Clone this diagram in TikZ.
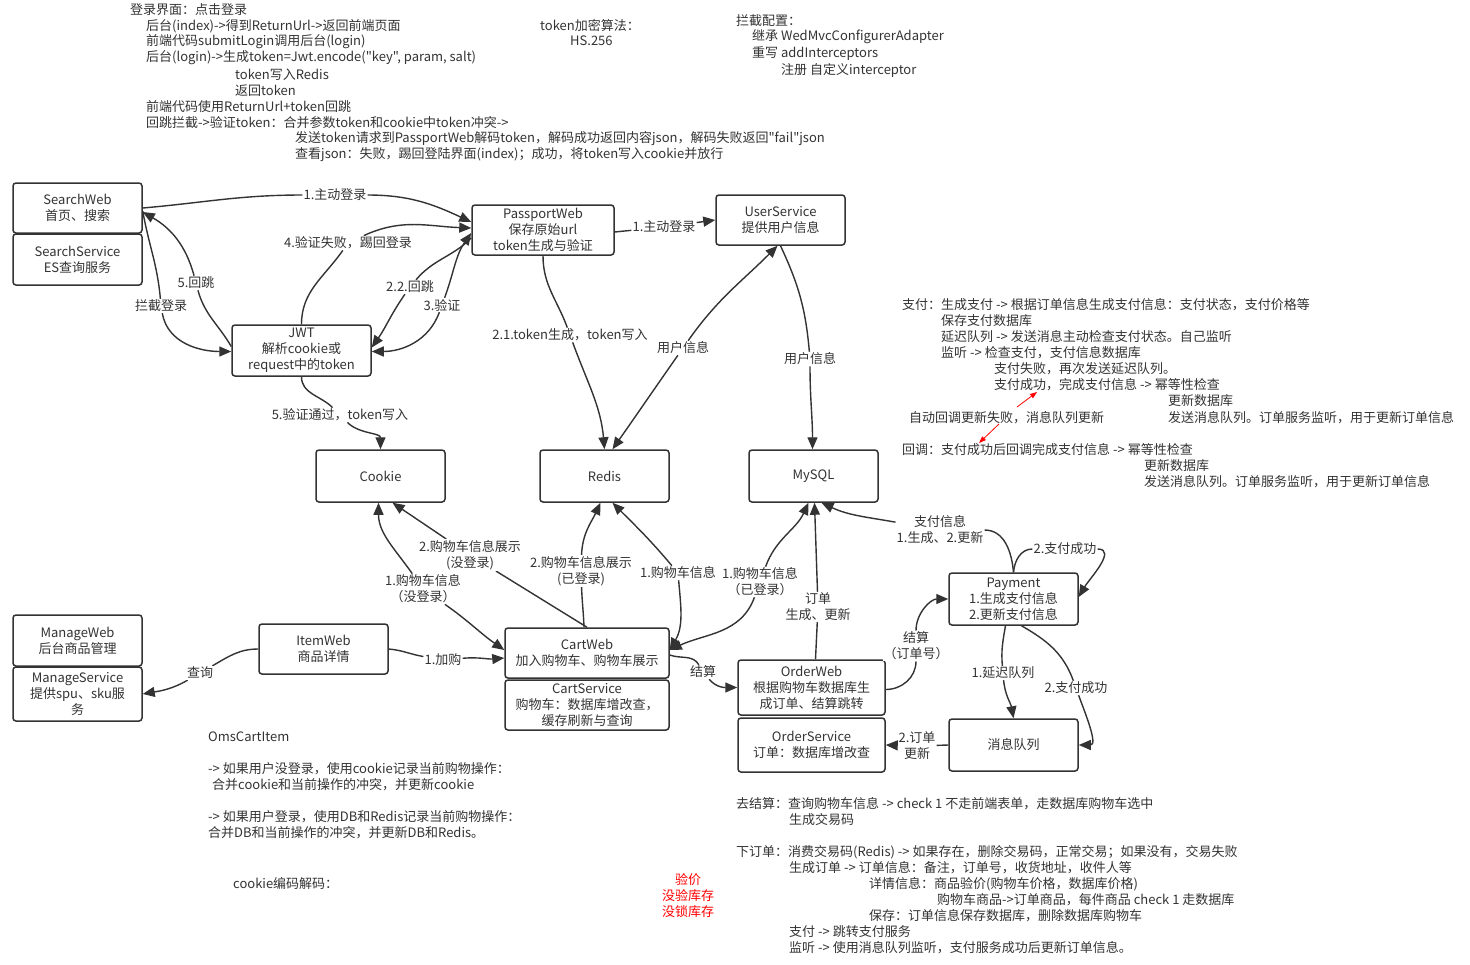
\documentclass[tikz,border=0pt]{standalone}
\usepackage{fontspec}
\setmainfont{Noto Sans CJK SC}[Ligatures=TeXOff]
\usepackage{xcolor}
\usetikzlibrary{arrows.meta}
\usetikzlibrary{backgrounds}
\colorlet{lineCol}{black!80}
\colorlet{textCol}{black!80}
\colorlet{warnCol}{red}

\tikzset{
  box/.style={draw=lineCol, line width=1.5pt, rounded corners=3pt, fill=white, text=textCol,
    align=center, inner sep=1pt, minimum width=129pt, minimum height=51pt,
    font=\fontsize{13}{16}\selectfont},
  lbl/.style={fill=white, text=textCol, align=center, inner sep=1pt, font=\fontsize{13}{16}\selectfont},
  note/.style={anchor=west, inner sep=0pt, text=textCol, font=\fontsize{13}{16}\selectfont},
  link/.style={draw=lineCol, line width=1.4pt, ->},
  linkback/.style={link, <-},
  redlink/.style={draw=warnCol, line width=0.8pt, -{Triangle[length=7pt,width=5pt]}}
}

\begin{document}
\begin{tikzpicture}[x=1pt, y=-1pt, >={Triangle[length=12pt,width=10pt]}]
%--------------------------------------------------
\useasboundingbox (0,0) rectangle (1470,964);

% login notes, top left
\node[note] (login1) at (130,10) {登录界面：点击登录};
\node[note] (login2) at (146,26) {后台(index)->得到ReturnUrl->返回前端页面};
\node[note] (login3) at (146,42) {前端代码submitLogin调用后台(login)};
\node[note] (login4) at (146,58) {后台(login)->生成token=Jwt.encode("key", param, salt)};
\node[note] (login5) at (235,75) {token写入Redis};
\node[note] (login6) at (235,91) {返回token};
\node[note] (login7) at (146,107) {前端代码使用ReturnUrl+token回跳};
\node[note] (login8) at (146,123) {回跳拦截->验证token：合并参数token和cookie中token冲突->};
\node[note] (login9) at (295,139) {发送token请求到PassportWeb解码token，解码成功返回内容json，解码失败返回"fail"json};
\node[note] (login10) at (295,155) {查看json：失败，踢回登陆界面(index)；成功，将token写入cookie并放行};

% token algorithm and interceptor notes
\node[note] (enc1) at (540,25) {token加密算法：};
\node[note] (enc2) at (570,41) {HS.256};
\node[note] (icpt1) at (736,21) {拦截配置：};
\node[note] (icpt2) at (752,37) {继承 WedMvcConfigurerAdapter};
\node[note] (icpt3) at (752,54) {重写 addInterceptors};
\node[note] (icpt4) at (781,70) {注册 自定义interceptor};

% payment notes, right
\node[note] (pay1) at (902,305) {支付：生成支付 -> 根据订单信息生成支付信息：支付状态，支付价格等};
\node[note] (pay2) at (941,321) {保存支付数据库};
\node[note] (pay3) at (941,337) {延迟队列 -> 发送消息主动检查支付状态。自己监听};
\node[note] (pay4) at (941,353) {监听 -> 检查支付，支付信息数据库};
\node[note] (pay5) at (994,369) {支付失败，再次发送延迟队列。};
\node[note] (pay6) at (994,385) {支付成功，完成支付信息 -> 幂等性检查};
\node[note] (pay7) at (1168,401) {更新数据库};
\node[note] (pay8) at (1168,418) {发送消息队列。订单服务监听，用于更新订单信息};
\node[note] (pay9) at (909,418) {自动回调更新失败，消息队列更新};
\node[note] (pay10) at (902,450) {回调：支付成功后回调完成支付信息 -> 幂等性检查};
\node[note] (pay11) at (1144,466) {更新数据库};
\node[note] (pay12) at (1144,482) {发送消息队列。订单服务监听，用于更新订单信息};

% cart notes, bottom left
\node[note] (cart1) at (208,737) {OmsCartItem};
\node[note] (cart2) at (208,769) {-> 如果用户没登录，使用cookie记录当前购物操作：};
\node[note] (cart3) at (212,785) {合并cookie和当前操作的冲突，并更新cookie};
\node[note] (cart4) at (208,817) {-> 如果用户登录，使用DB和Redis记录当前购物操作：};
\node[note] (cart5) at (208,833) {合并DB和当前操作的冲突，并更新DB和Redis。};
\node[note] (cart6) at (233,884) {cookie编码解码：};
\node[lbl, fill=none, text=warnCol] (stock) at (688,896) {验价\\没验库存\\没锁库存};

% order notes, bottom right
\node[note] (order1) at (736,804) {去结算：查询购物车信息 -> check 1 不走前端表单，走数据库购物车选中};
\node[note] (order2) at (789,820) {生成交易码};
\node[note] (order3) at (736,852) {下订单：消费交易码(Redis) -> 如果存在，删除交易码，正常交易；如果没有，交易失败};
\node[note] (order4) at (789,868) {生成订单 -> 订单信息：备注，订单号，收货地址，收件人等};
\node[note] (order5) at (869,884) {详情信息：商品验价(购物车价格，数据库价格)};
\node[note] (order6) at (937,900) {购物车商品->订单商品，每件商品 check 1 走数据库};
\node[note] (order7) at (869,916) {保存：订单信息保存数据库，删除数据库购物车};
\node[note] (order8) at (789,932) {支付 -> 跳转支付服务};
\node[note] (order9) at (789,948) {监听 -> 使用消息队列监听，支付服务成功后更新订单信息。};

% service boxes
\node[box, minimum height=50pt] (sweb) at (77.5,208) {SearchWeb\\首页、搜索};
\node[box] (ssvc) at (77.5,259.5) {SearchService\\ES查询服务};
\node[box, minimum width=142pt, minimum height=50pt] (pweb) at (543,230) {PassportWeb\\保存原始url\\token生成与验证};
\node[box, minimum height=50pt] (usvc) at (780.5,220) {UserService\\提供用户信息};
\node[box, minimum width=139pt] (jwt) at (301.5,350.5) {JWT\\解析cookie或\\request中的token};
\node[box, minimum height=52pt] (cookie) at (380.5,476) {Cookie};
\node[box, minimum height=52pt] (redis) at (604.5,476) {Redis};
\node[box, minimum height=52pt] (mysql) at (813.5,476) {MySQL};
\node[box] (mweb) at (77.5,640.5) {ManageWeb\\后台商品管理};
\node[box, minimum height=54pt] (msvc) at (77.5,694) {ManageService\\提供spu、sku服\\务};
\node[box, minimum height=50pt] (iweb) at (323.5,649) {ItemWeb\\商品详情};
\node[box, minimum width=164pt, minimum height=50pt] (cweb) at (587,653) {CartWeb\\加入购物车、购物车展示};
\node[box, minimum width=164pt, minimum height=50pt] (csvc) at (587,705) {CartService\\购物车：数据库增改查，\\缓存刷新与查询};
\node[box, minimum width=147pt, minimum height=55pt] (oweb) at (811.5,687.5) {OrderWeb\\根据购物车数据库生\\成订单、结算跳转};
\node[box, minimum width=147pt, minimum height=54pt] (osvc) at (811.5,745) {OrderService\\订单：数据库增改查};
\node[box, minimum height=52pt] (pay) at (1013.5,599) {Payment\\1.生成支付信息\\2.更新支付信息};
\node[box, minimum height=52pt] (mq) at (1013.5,745) {消息队列};

% connector labels
\node[lbl] (lLogin1) at (335,195) {1.主动登录};
\node[lbl] (lLogin2) at (664,227) {1.主动登录};
\node[lbl] (lFail) at (348,243) {4.验证失败，踢回登录};
\node[lbl] (lBack) at (410,287) {2.2.回跳};
\node[lbl] (lCheck) at (442,305) {3.验证};
\node[lbl] (lIntercept) at (161,306) {拦截登录};
\node[lbl] (lJump) at (196,283) {5.回跳};
\node[lbl] (lPass) at (340,415) {5.验证通过，token写入};
\node[lbl] (lToken) at (570,335) {2.1.token生成，token写入};
\node[lbl] (lUser1) at (683,348) {用户信息};
\node[lbl] (lUser2) at (810,359) {用户信息};
\node[lbl] (lCartC1) at (423,589) {1.购物车信息\\（没登录）};
\node[lbl] (lCartC2) at (470,555) {2.购物车信息展示\\(没登录)};
\node[lbl] (lCartR2) at (581,571) {2.购物车信息展示\\(已登录)};
\node[lbl] (lCartR1) at (678,573) {1.购物车信息};
\node[lbl] (lCartM1) at (760,582) {1.购物车信息\\（已登录）};
\node[lbl] (lAdd) at (443,660) {1.加购};
\node[lbl] (lQuery) at (200,673) {查询};
\node[lbl] (lSettle) at (703,672) {结算};
\node[lbl] (lOrder) at (818,607) {订单\\生成、更新};
\node[lbl] (lSettle2) at (916,646) {结算\\（订单号）};
\node[lbl] (lPayInfo) at (940,530) {支付信息\\1.生成、2.更新};
\node[lbl] (lPayOk1) at (1065,549) {2.支付成功};
\node[lbl] (lDelay) at (1003,673) {1.延迟队列};
\node[lbl] (lPayOk2) at (1076,688) {2.支付成功};
\node[lbl] (lUpdate) at (917,746) {2.订单\\更新};

% red hints between payment notes
\coordinate (hint1s) at (1017,407);
\coordinate (hint1e) at (1037,392);
\coordinate (hint2s) at (999,424);
\coordinate (hint2e) at (979,443);
\draw[redlink] (hint1s) -- (hint1e);
\draw[redlink] (hint2s) -- (hint2e);

\begin{scope}[on background layer]
\fill[white] (0,0) rectangle (1470,964);

% login flow
\draw[link] (sweb.east) to[out=5,in=180] (lLogin1) to[out=0,in=155] ([yshift=8pt]pweb.west);
\draw[link] ([yshift=-2pt]pweb.east) -- (lLogin2) -- (usvc.west);
\draw[link] (jwt.north) to[out=90,in=235] (lFail) to[out=25,in=178] ([yshift=2pt]pweb.west);
\draw[link] ([yshift=-8pt]pweb.west) to[out=225,in=50] (lBack) to[out=235,in=55] ([yshift=3pt]jwt.east);
\draw[linkback] ([yshift=-1pt]jwt.east) to[out=0,in=250] (lCheck);
\draw[link] (lCheck) to[out=70,in=235] ([yshift=-3pt]pweb.west);
\draw[link] ([yshift=-3pt]sweb.east) to[out=-80,in=95] (lIntercept) to[out=-80,in=180] ([yshift=-1pt]jwt.west);
\draw[link] ([yshift=4pt]jwt.west) to[out=120,in=-75] (lJump) to[out=105,in=-30] ([yshift=-4pt]sweb.east);
\draw[link] (jwt.south) to[out=-90,in=135] (lPass) to[out=-45,in=90] (cookie.north);

% token and user info
\draw[link] (pweb.south) to[out=-90,in=110] (lToken) to[out=-70,in=95] (redis.north);
\draw[linkback] ([xshift=8pt]redis.north) to[out=55,in=235] (lUser1);
\draw[link] (lUser1) to[out=55,in=225] ([xshift=-3pt]usvc.south);
\draw[link] (usvc.south) to[out=-65,in=95] (lUser2) to[out=-90,in=90] ([xshift=-1pt]mysql.north);

% cart flow
\draw[linkback] ([xshift=-2pt]cookie.south) to[out=-90,in=125] (lCartC1);
\draw[link] (lCartC1) to[out=-35,in=145] ([yshift=3pt]cweb.west);
\draw[link] (cweb.north) -- (lCartC2) -- ([xshift=12pt]cookie.south);
\draw[link] ([xshift=-3pt]cweb.north) to[out=92,in=-88] (lCartR2) to[out=88,in=-115] ([xshift=-4pt]redis.south);
\draw[linkback] ([xshift=8pt]redis.south) to[out=-45,in=130] (lCartR1);
\draw[link] (lCartR1) to[out=-85,in=60] ([yshift=3pt]cweb.east);
\draw[linkback] ([xshift=-5pt]mysql.south) to[out=-115,in=70] (lCartM1);
\draw[link] (lCartM1) to[out=-110,in=25] ([yshift=3pt]cweb.east);
\draw[link] (iweb.east) to[out=-5,in=170] (lAdd) to[out=5,in=185] ([yshift=-5pt]cweb.west);
\draw[link] (iweb.west) to[out=180,in=30] (lQuery) to[out=210,in=10] (msvc.east);

% order and payment flow
\draw[link] ([yshift=-2pt]cweb.east) to[out=-20,in=120] (lSettle) to[out=-50,in=180] (oweb.west);
\draw[link] ([xshift=4pt]oweb.north) -- (lOrder) -- ([xshift=1pt]mysql.south);
\draw[link] ([yshift=-2pt]oweb.east) to[out=0,in=-90] (lSettle2) to[out=90,in=180] (pay.west);
\draw[link] (pay.north) to[out=95,in=0] (lPayInfo) to[out=170,in=-25] ([xshift=8pt]mysql.south);
\draw[link] (pay.north) to[out=85,in=180] (lPayOk1) to[out=0,in=60] ([yshift=2pt]pay.east);
\draw[link] ([xshift=-8pt]pay.south) to[out=-100,in=95] (lDelay) to[out=-85,in=100] (mq.north);
\draw[link] ([xshift=8pt]pay.south) to[out=-30,in=110] (lPayOk2) to[out=-70,in=0] (mq.east);
\draw[link] (mq.west) -- (lUpdate) -- (osvc.east);
\end{scope}

%--------------------------------------------------
\end{tikzpicture}
\end{document}
